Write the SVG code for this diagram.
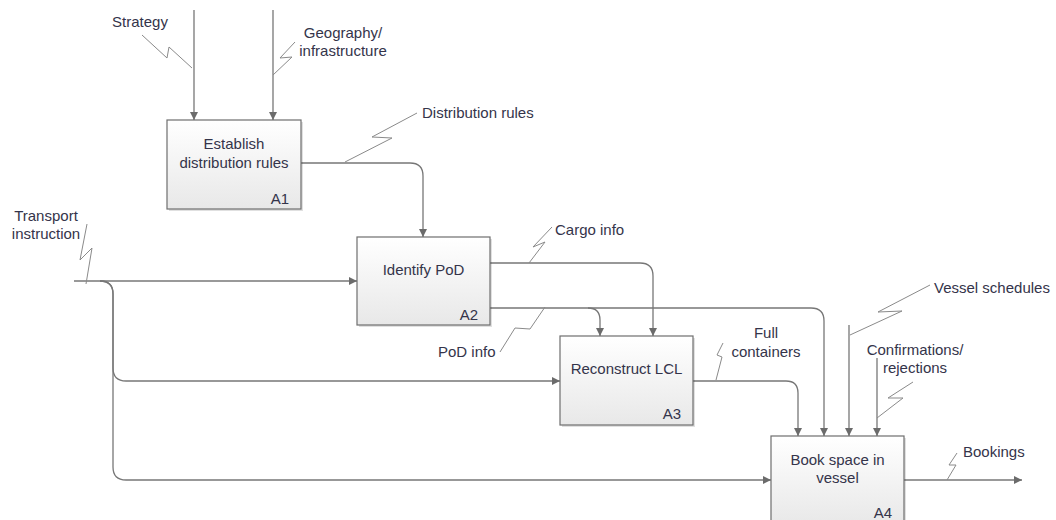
<svg xmlns="http://www.w3.org/2000/svg" width="1056" height="520" viewBox="0 0 1056 520">
<style>
  .box{fill:url(#g);stroke:#6e6e6e;stroke-width:1.2}
  .sh{fill:#000;opacity:0.12}
  .t{font-family:"Liberation Sans",Arial,sans-serif;font-size:15px;fill:#34344a}
  .m{text-anchor:middle}
  .e{text-anchor:end}
  .c{fill:none;stroke:#777;stroke-width:1.3}
  .a{marker-end:url(#arr)}
  .z{fill:none;stroke:#8a8a8a;stroke-width:1}
</style>
<defs>
  <linearGradient id="g" x1="0" y1="0" x2="0" y2="1">
    <stop offset="0" stop-color="#ffffff"/>
    <stop offset="1" stop-color="#e8e8e8"/>
  </linearGradient>
  <marker id="arr" markerWidth="9" markerHeight="8" refX="8" refY="4" orient="auto" markerUnits="userSpaceOnUse">
    <path d="M0,0 L8,4 L0,8 z" fill="#6b6b6b"/>
  </marker>
</defs>
<rect width="1056" height="520" fill="#fff"/>

<g id="connectors">
  <path class="c a" d="M194,10 V120"/>
  <path class="c a" d="M273,10 V120"/>
  <path class="c a" d="M301,163 H410 Q423,163 423,176 V237"/>
  <path class="c a" d="M74,281 H357"/>
  <path class="c a" d="M100,281 Q113,281 113,294 V368 Q113,381 126,381 H560"/>
  <path class="c a" d="M100,281 Q113,281 113,294 V467 Q113,480 126,480 H771"/>
  <path class="c a" d="M490,263 H640 Q653,263 653,276 V336"/>
  <path class="c a" d="M490,308 H811 Q824,308 824,321 V436"/>
  <path class="c a" d="M588,308 Q600,308 600,320 V336"/>
  <path class="c a" d="M693,381 H786 Q798,381 798,393 V436"/>
  <path class="c a" d="M849,325 V436"/>
  <path class="c a" d="M877,358 V436"/>
  <path class="c a" d="M904,480 H1022"/>
  <!-- squiggles -->
  <path class="z" d="M192,68 L169,47 L167,58 L142,35"/>
  <path class="z" d="M273,75 L292,57 L280,58 L295,42"/>
  <path class="z" d="M345,162 L392,138 L372,137 L417,113"/>
  <path class="z" d="M86,284 L92,248 L80,260 L87,224"/>
  <path class="z" d="M529,263 L545,242 L533,247 L552,227"/>
  <path class="z" d="M545,307 L530,329 L515,328 L500,352"/>
  <path class="z" d="M716,380 L722,357 L717,355 L723,343"/>
  <path class="z" d="M850,335 L902,311 L878,312 L930,285"/>
  <path class="z" d="M877,418 L903,398 L888,398 L913,382"/>
  <path class="z" d="M947,480 L956,465 L949,465 L957,453"/>
</g>

<g id="labels">
  <text class="t m" x="140" y="27">Strategy</text>
  <text class="t m" x="343" y="38">Geography/</text>
  <text class="t m" x="343" y="56">infrastructure</text>
  <text class="t" x="422" y="118">Distribution rules</text>
  <text class="t m" x="46" y="221">Transport</text>
  <text class="t m" x="46" y="239">instruction</text>
  <text class="t" x="555" y="235">Cargo info</text>
  <text class="t" x="438" y="357">PoD info</text>
  <text class="t m" x="766" y="338">Full</text>
  <text class="t m" x="766" y="357">containers</text>
  <text class="t" x="934" y="293">Vessel schedules</text>
  <text class="t m" x="915" y="355">Confirmations/</text>
  <text class="t m" x="915" y="373">rejections</text>
  <text class="t" x="963" y="457">Bookings</text>
</g>

<g id="A1">
  <rect class="sh" x="169" y="122" width="134" height="89"/>
  <rect class="box" x="167" y="120" width="134" height="89"/>
  <text class="t m" x="234" y="149">Establish</text>
  <text class="t m" x="234" y="168">distribution rules</text>
  <text class="t e" x="289" y="204">A1</text>
</g>
<g id="A2">
  <rect class="sh" x="359" y="239" width="133" height="88"/>
  <rect class="box" x="357" y="237" width="133" height="88"/>
  <text class="t m" x="423.5" y="275">Identify PoD</text>
  <text class="t e" x="478" y="320">A2</text>
</g>
<g id="A3">
  <rect class="sh" x="562" y="338" width="133" height="89"/>
  <rect class="box" x="560" y="336" width="133" height="89"/>
  <text class="t m" x="626.5" y="374">Reconstruct LCL</text>
  <text class="t e" x="681" y="419">A3</text>
</g>
<g id="A4">
  <rect class="sh" x="773" y="438" width="133" height="89"/>
  <rect class="box" x="771" y="436" width="133" height="89"/>
  <text class="t m" x="837.5" y="465">Book space in</text>
  <text class="t m" x="837.5" y="483">vessel</text>
  <text class="t e" x="892" y="518">A4</text>
</g>
</svg>
